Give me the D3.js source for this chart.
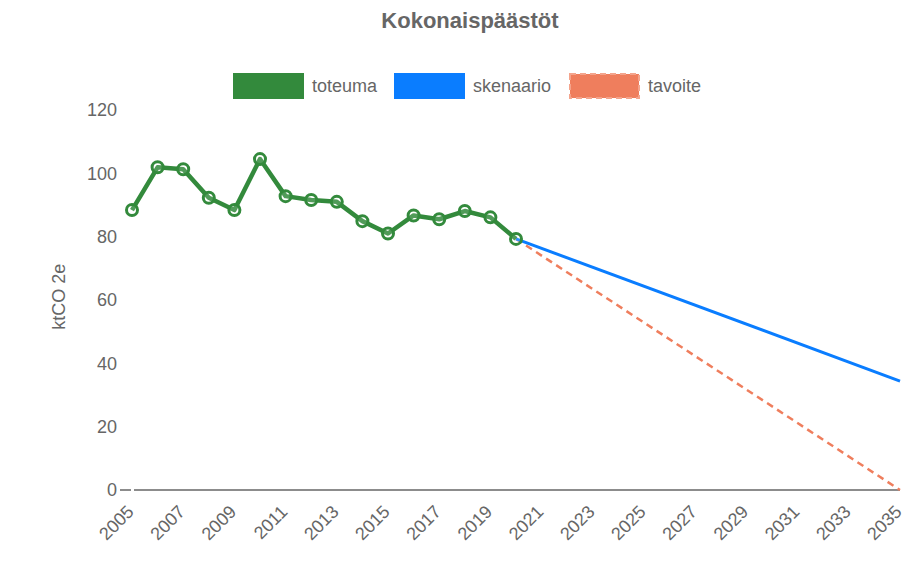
<!DOCTYPE html>
<html>
<head>
<meta charset="utf-8">
<script src="https://cdn.jsdelivr.net/npm/d3@7"></script>
<style>
  body { margin: 0; background: #fff; }
  svg text { font-family: "Liberation Sans", Arial, sans-serif; }
</style>
</head>
<body>
<div id="chart"></div>
<script>
// Kokonaispäästöt – line chart data
const years = [2005, 2006, 2007, 2008, 2009, 2010, 2011, 2012, 2013, 2014, 2015, 2016, 2017, 2018, 2019, 2020];
const toteuma = [88.4, 101.9, 101.3, 92.3, 88.4, 104.5, 92.8, 91.6, 91.0, 84.9, 81.0, 86.7, 85.5, 88.1, 86.1, 79.3];
const skenaarioYears = [2020, 2035];
const skenaario = [79.3, 34.4];
const tavoiteYears = [2020, 2035];
const tavoite = [79.3, 0];
const yTicks = [0, 20, 40, 60, 80, 100, 120];
const xTicks = d3.range(2005, 2036, 2);

const seriesNames = ["toteuma", "skenaario", "tavoite"];
const colors = { toteuma: "#338a3c", skenaario: "#0a7dff", tavoite: "#ef7e5d" };

const W = 906, H = 573;
const svg = d3.select("#chart").append("svg")
  .attr("width", W)
  .attr("height", H);

const x = d3.scaleLinear().domain([2005, 2035]).range([132, 900]);
const y = d3.scaleLinear().domain([0, 120]).range([490, 110]);

// Title
svg.append("text")
  .attr("x", 470)
  .attr("y", 28)
  .attr("text-anchor", "middle")
  .style("font-size", "22px")
  .style("font-weight", "bold")
  .style("fill", "#666")
  .text("Kokonaispäästöt");

// Legend
const legendX = [234, 395, 570];
seriesNames.forEach((name, i) => {
  const g = svg.append("g").attr("transform", `translate(${legendX[i]},74)`);
  const r = g.append("rect")
    .attr("width", 69)
    .attr("height", 24)
    .attr("fill", colors[name])
    .attr("stroke", colors[name])
    .attr("stroke-width", 2);
  if (name === "tavoite") r.attr("stroke-dasharray", "6,4").attr("stroke", "#f4a48c");
  g.append("text")
    .attr("x", 78)
    .attr("y", 12)
    .attr("dy", "0.35em")
    .style("font-size", "18px")
    .style("fill", "#666")
    .text(name);
});

// Y axis labels
svg.append("g").selectAll("text")
  .data(yTicks)
  .join("text")
  .attr("x", 117)
  .attr("y", d => y(d))
  .attr("dy", "0.35em")
  .attr("text-anchor", "end")
  .style("font-size", "18px")
  .style("fill", "#666")
  .text(d => d);

// tick at zero + x axis line
svg.append("line")
  .attr("x1", 120).attr("x2", 131)
  .attr("y1", y(0)).attr("y2", y(0))
  .attr("stroke", "#666").attr("stroke-width", 1.5);
svg.append("line")
  .attr("x1", 134).attr("x2", 900)
  .attr("y1", y(0)).attr("y2", y(0))
  .attr("stroke", "#666").attr("stroke-width", 1.5);

// Y axis title
svg.append("text")
  .attr("transform", `translate(65,${y(61)}) rotate(-90)`)
  .attr("text-anchor", "middle")
  .style("font-size", "18px")
  .style("fill", "#666")
  .text("ktCO 2e");

// X axis labels, rotated
svg.append("g").selectAll("text")
  .data(xTicks)
  .join("text")
  .attr("text-anchor", "end")
  .attr("transform", d => `translate(${x(d) - 6},${y(0) + 14}) rotate(-45)`)
  .attr("dy", "0.7em")
  .style("font-size", "18px")
  .style("fill", "#666")
  .text(d => d);

const line = d3.line().x(d => x(d[0])).y(d => y(d[1]));

// tavoite (dashed)
svg.append("path")
  .datum(tavoiteYears.map((yr, i) => [yr, tavoite[i]]))
  .attr("d", line)
  .attr("fill", "none")
  .attr("stroke", colors.tavoite)
  .attr("stroke-width", 2.5)
  .attr("stroke-dasharray", "7,5");

// skenaario
svg.append("path")
  .datum(skenaarioYears.map((yr, i) => [yr, skenaario[i]]))
  .attr("d", line)
  .attr("fill", "none")
  .attr("stroke", colors.skenaario)
  .attr("stroke-width", 3);

// toteuma
const totData = years.map((yr, i) => [yr, toteuma[i]]);
svg.append("path")
  .datum(totData)
  .attr("d", line)
  .attr("fill", "none")
  .attr("stroke", colors.toteuma)
  .attr("stroke-width", 4.5)
  .attr("stroke-linejoin", "round");

svg.append("g").selectAll("circle")
  .data(totData)
  .join("circle")
  .attr("cx", d => x(d[0]))
  .attr("cy", d => y(d[1]))
  .attr("r", 5.5)
  .attr("fill", "rgba(255,255,255,0.15)")
  .attr("stroke", colors.toteuma)
  .attr("stroke-width", 3);
</script>
</body>
</html>
